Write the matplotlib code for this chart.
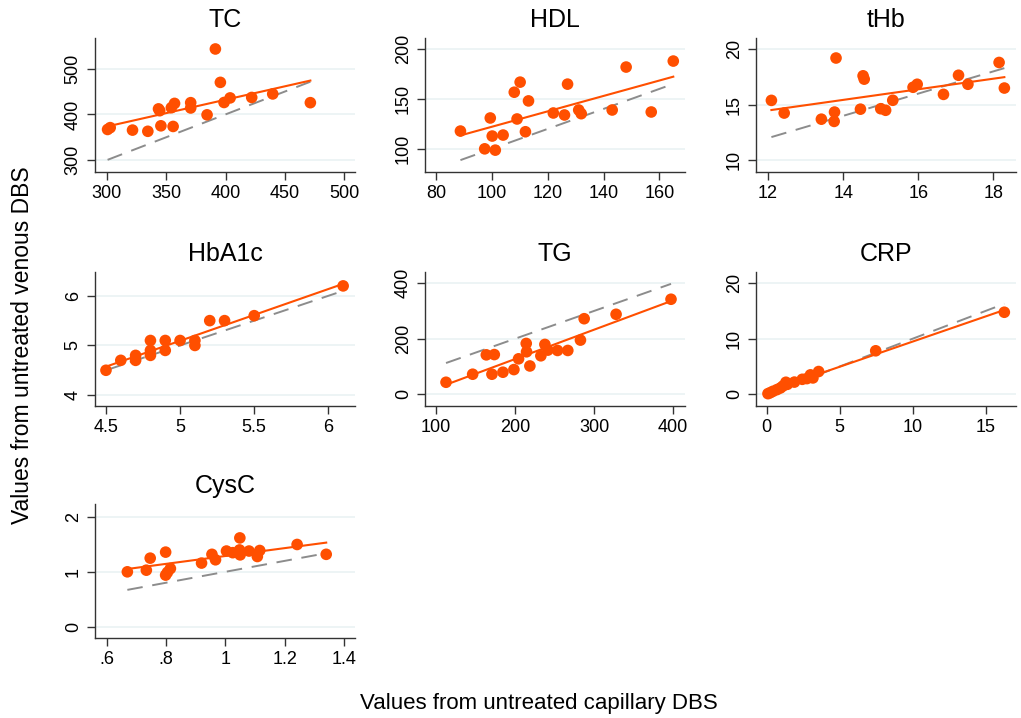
import numpy as np
import matplotlib.pyplot as plt

plt.rcParams['font.family'] = ['Liberation Sans', 'DejaVu Sans']

# capillary (x) and venous (y) values per analyte
tc_x = [300.6, 302.8, 321.6, 334.5, 343.5, 344.5, 345.5, 354.3, 357.0, 355.8,
        370.6, 370.6, 384.4, 391.4, 395.6, 398.7, 403.8, 422.0, 439.7, 471.4]
tc_y = [367, 371, 365.6, 363, 412, 408, 375, 414.6, 424, 373.6,
        425.6, 414, 399, 543, 470, 426, 436, 437, 444.7, 425.6]

hdl_x = [88.7, 97.4, 99.4, 100.1, 101.2, 104.0, 108.0, 109.0, 110.1, 112.0,
         113.1, 122.0, 126.0, 127.1, 131.1, 132.0, 143.1, 148.1, 157.1, 165.0]
hdl_y = [117.8, 100.0, 130.9, 112.8, 98.7, 113.8, 156.7, 129.9, 166.8, 117.1,
         148.0, 135.9, 133.9, 164.8, 138.9, 135.2, 138.9, 181.9, 136.9, 187.9]

thb_x = [12.09, 12.43, 13.42, 13.76, 13.77, 13.81, 14.46, 14.53, 14.56, 15.00,
         15.13, 15.32, 15.86, 15.97, 16.67, 17.07, 17.32, 18.15, 18.29]
thb_y = [15.39, 14.25, 13.70, 13.50, 14.34, 19.20, 14.60, 17.60, 17.30, 14.64,
         14.50, 15.40, 16.57, 16.84, 15.93, 17.65, 16.84, 18.80, 16.50]

hba_x = [4.5, 4.6, 4.7, 4.7, 4.8, 4.8, 4.8, 4.9, 4.9, 5.0, 5.1, 5.1, 5.2, 5.3, 5.5, 6.1]
hba_y = [4.5, 4.7, 4.8, 4.7, 5.1, 4.9, 4.8, 5.1, 4.9, 5.1, 5.1, 5.0, 5.5, 5.5, 5.6, 6.2]

tg_x = [112.6, 146.3, 163.6, 170.7, 173.7, 184.6, 198.5, 204.4, 214.1, 214.5,
        218.7, 232.6, 237.7, 241.5, 253.7, 266.7, 282.7, 287.4, 327.8, 397.3]
tg_y = [43.4, 72.3, 142, 72.3, 143, 79.5, 89, 127.7, 183, 153,
        102, 138.6, 179.5, 159, 157.8, 157.8, 195, 272, 287.9, 342]

crp_x = [0.09, 0.25, 0.43, 0.70, 0.94, 1.12, 1.32, 1.42, 1.90, 2.44,
         2.76, 3.00, 3.17, 3.56, 7.47, 16.28]
crp_y = [0.12, 0.30, 0.54, 0.84, 1.14, 1.50, 2.17, 1.80, 2.20, 2.70,
         2.83, 3.50, 2.95, 4.10, 7.83, 14.76]

cys_x = [0.670, 0.734, 0.747, 0.799, 0.799, 0.805, 0.815, 0.920, 0.955, 0.967,
         1.004, 1.025, 1.048, 1.049, 1.050, 1.080, 1.108, 1.116, 1.242, 1.340]
cys_y = [1.00, 1.03, 1.25, 1.36, 0.94, 0.99, 1.06, 1.16, 1.32, 1.22,
         1.38, 1.35, 1.40, 1.62, 1.31, 1.38, 1.28, 1.39, 1.50, 1.32]

titles = ['TC', 'HDL', 'tHb', 'HbA1c', 'TG', 'CRP', 'CysC']
xs = [tc_x, hdl_x, thb_x, hba_x, tg_x, crp_x, cys_x]
ys = [tc_y, hdl_y, thb_y, hba_y, tg_y, crp_y, cys_y]

xticks = [[300, 350, 400, 450, 500], [80, 100, 120, 140, 160], [12, 14, 16, 18],
          [4.5, 5, 5.5, 6], [100, 200, 300, 400], [0, 5, 10, 15],
          [0.6, 0.8, 1.0, 1.2, 1.4]]
xticklabels = [['300', '350', '400', '450', '500'], ['80', '100', '120', '140', '160'],
               ['12', '14', '16', '18'], ['4.5', '5', '5.5', '6'],
               ['100', '200', '300', '400'], ['0', '5', '10', '15'],
               ['.6', '.8', '1', '1.2', '1.4']]
yticks = [[300, 400, 500], [100, 150, 200], [10, 15, 20], [4, 5, 6],
          [0, 200, 400], [0, 10, 20], [0, 1, 2]]
xlims = [(290, 509), (76, 169.2), (11.68, 18.6), (4.426, 6.18), (86, 415),
         (-0.73, 17.08), (0.561, 1.437)]
ylims = [(274, 567), (76.8, 211), (8.95, 21), (3.78, 6.48), (-42, 440),
         (-2.1, 22), (-0.21, 2.24)]

orange = '#ff4f00'

fig = plt.figure(figsize=(10.21, 7.18), dpi=100)
W, H = 1021, 718
lefts = [95, 425, 756]
tops = [38, 272, 504]
aw, ah = 260, 134

for i in range(7):
    r, c = divmod(i, 3)
    ax = fig.add_axes([lefts[c] / W, 1 - (tops[r] + ah) / H, aw / W, ah / H])
    x = np.array(xs[i])
    y = np.array(ys[i])
    xl = np.array([x.min(), x.max()])
    # identity reference line
    ax.plot(xl, xl, color='#8c8c8c', linestyle=(0, (8, 5)), linewidth=1.4, zorder=2)
    # linear fit
    b, a = np.polyfit(x, y, 1)
    ax.plot(xl, a + b * xl, color=orange, linewidth=1.5, zorder=3)
    ax.scatter(x, y, s=70, color=orange, edgecolors='none', zorder=4)
    ax.set_xlim(*xlims[i])
    ax.set_ylim(*ylims[i])
    ax.set_xticks(xticks[i])
    ax.set_xticklabels(xticklabels[i])
    ax.set_yticks(yticks[i])
    for t in yticks[i]:
        ax.axhline(t, color='#eaf2f3', linewidth=1.2, zorder=1)
    ax.tick_params(axis='both', labelsize=13, length=6, width=1, color='#333333')
    plt.setp(ax.get_yticklabels(), rotation=90, va='center')
    for s in ['top', 'right']:
        ax.spines[s].set_visible(False)
    for s in ['left', 'bottom']:
        ax.spines[s].set_color('#333333')
        ax.spines[s].set_linewidth(1)
    ax.set_title(titles[i], fontsize=18, pad=8)

fig.text(23 / W, 1 - 345 / H, 'Values from untreated venous DBS', rotation=90,
         fontsize=16.5, ha='center', va='center')
fig.text(539 / W, 1 - 703 / H, 'Values from untreated capillary DBS',
         fontsize=16, ha='center', va='center')

fig.savefig('out.png', dpi=100)
